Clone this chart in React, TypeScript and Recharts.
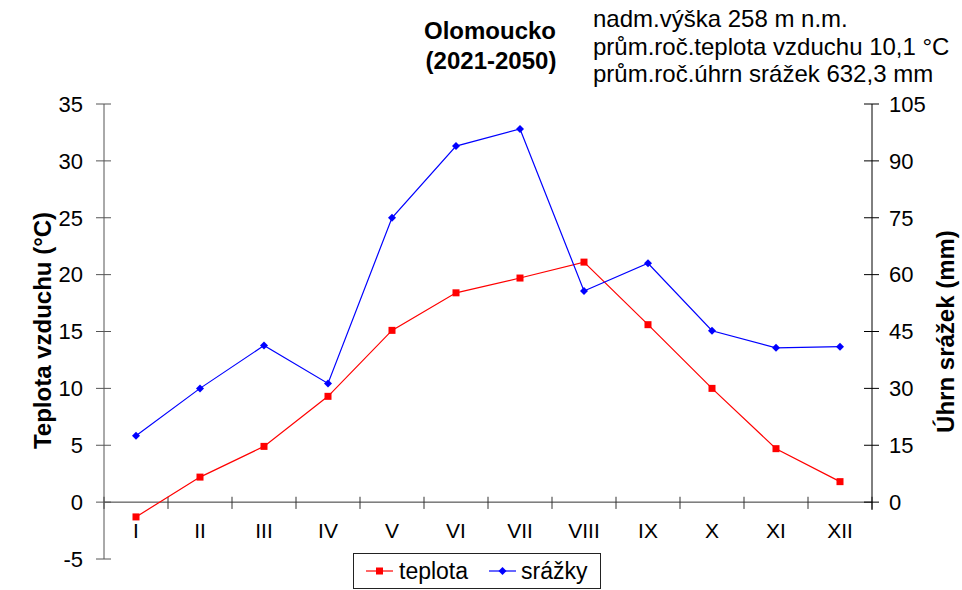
import React from 'react';
import { LineChart, Line, XAxis, YAxis, ReferenceLine, Legend } from 'recharts';

const months = ['I', 'II', 'III', 'IV', 'V', 'VI', 'VII', 'VIII', 'IX', 'X', 'XI', 'XII'];
const teplota = [-1.3, 2.2, 4.9, 9.3, 15.1, 18.4, 19.7, 21.1, 15.6, 10.0, 4.7, 1.8];
const srazky = [17.5, 30.0, 41.3, 31.3, 75.0, 93.9, 98.4, 55.7, 63.0, 45.2, 40.7, 41.0];
const tempTicks = [-5, 0, 5, 10, 15, 20, 25, 30, 35];
const precTicks = [0, 15, 30, 45, 60, 75, 90, 105];
const titleLines = ['Olomoucko', '(2021-2050)'];
const infoLines = ['nadm.výška 258 m n.m.', 'prům.roč.teplota vzduchu 10,1 °C', 'prům.roč.úhrn srážek 632,3 mm'];
const seriesOrder = ['teplota', 'srazky'];
const seriesNames = { teplota: 'teplota', srazky: 'srážky' };
const leftTitle = 'Teplota vzduchu (°C)';
const rightTitle = 'Úhrn srážek (mm)';

const data = months.map((m, i) => ({ month: m, idx: i + 1, teplota: teplota[i], srazky: srazky[i] }));
// category boundaries on a 1..12 index axis (for the small cross ticks on the zero line)
const boundaries = [0.5, ...months.map((_, i) => i + 1.5)];

const FONT = '"Liberation Sans", Arial, Helvetica, sans-serif';
const RED = '#FF0000';
const BLUE = '#0000FF';

const SquareDot = (props: any) => {
  const { cx, cy } = props;
  if (cx == null || cy == null) return null;
  return <rect x={cx - 3.5} y={cy - 3.5} width={7} height={7} fill={RED} stroke="none" />;
};

const DiamondDot = (props: any) => {
  const { cx, cy } = props;
  if (cx == null || cy == null) return null;
  const r = 4;
  return <polygon points={`${cx},${cy - r} ${cx + r},${cy} ${cx},${cy + r} ${cx - r},${cy}`} fill={BLUE} stroke="none" />;
};

const XTick = (props: any) => {
  const { x, y, payload } = props;
  return (
    <text x={x} y={y - 21} textAnchor="middle" fontSize={21} fontFamily={FONT} fill="#000">
      {payload.value}
    </text>
  );
};

const LeftTitle = (props: any) => {
  const vb = props.viewBox || {};
  const cy = (vb.y || 0) + (vb.height || 0) / 2 - 1;
  const bx = 51;
  return (
    <text x={bx} y={cy} transform={`rotate(-90 ${bx} ${cy})`} textAnchor="middle" fontSize={24} fontWeight="bold" fontFamily={FONT} fill="#000">
      {leftTitle}
    </text>
  );
};

const RightTitle = (props: any) => {
  const vb = props.viewBox || {};
  const cy = (vb.y || 0) + (vb.height || 0) / 2;
  const bx = 954;
  return (
    <text x={bx} y={cy} transform={`rotate(-90 ${bx} ${cy})`} textAnchor="middle" fontSize={24} fontWeight="bold" fontFamily={FONT} fill="#000">
      {rightTitle}
    </text>
  );
};

const LegendContent = (props: any) => {
  const payload = [...(props.payload || [])].sort(
    (a: any, b: any) => seriesOrder.indexOf(a.dataKey) - seriesOrder.indexOf(b.dataKey)
  );
  return (
    <div
      style={{
        boxSizing: 'border-box',
        width: 248,
        height: 36,
        border: '1px solid #222',
        background: '#fff',
        display: 'flex',
        alignItems: 'center',
        fontFamily: FONT,
        fontSize: 23,
        color: '#000',
        lineHeight: 1,
      }}
    >
      {payload.map((p: any, i: number) => (
        <React.Fragment key={i}>
          <svg width={27} height={10} style={{ marginLeft: i === 0 ? 12 : 21, display: 'block' }}>
            <line x1={0} y1={5} x2={27} y2={5} stroke={p.color} strokeWidth={1.2} />
            {p.dataKey === 'teplota' ? (
              <rect x={10} y={1.5} width={7} height={7} fill={p.color} />
            ) : (
              <polygon points="13.5,1 17.5,5 13.5,9 9.5,5" fill={p.color} />
            )}
          </svg>
          <span style={{ marginLeft: i === 0 ? 6 : 5 }}>{p.value}</span>
        </React.Fragment>
      ))}
    </div>
  );
};

export default function App() {
  return (
    <div style={{ position: 'absolute', left: 0, top: 0, width: 962, height: 590, background: '#fff' }}>
      <LineChart width={962} height={590} data={data} margin={{ top: 104, right: 10, bottom: 0, left: 20 }}>
        <XAxis
          dataKey="month"
          xAxisId="x"
          scale="band"
          axisLine={false}
          tickLine={false}
          tickSize={0}
          tickMargin={0}
          height={31}
          interval={0}
          tick={<XTick />}
        />
        <XAxis xAxisId="n" dataKey="idx" type="number" domain={[0.5, 12.5]} orientation="top" height={0} hide />
        <YAxis
          yAxisId="l"
          orientation="left"
          domain={[-5, 35]}
          ticks={tempTicks}
          interval={0}
          width={84}
          tickSize={15}
          tickMargin={6}
          axisLine={{ stroke: '#555', strokeWidth: 1 }}
          tickLine={{ stroke: '#555', strokeWidth: 1, transform: 'translate(7,0)' }}
          tick={{ fontSize: 22, fontFamily: FONT, fill: '#000' }}
          label={{ content: <LeftTitle /> }}
        />
        <YAxis
          yAxisId="r"
          orientation="right"
          domain={[-15, 105]}
          ticks={precTicks}
          interval={0}
          width={80}
          tickSize={15}
          tickMargin={2}
          axisLine={{ stroke: '#000', strokeWidth: 1, strokeDasharray: '406 1000' }}
          tickLine={{ stroke: '#000', strokeWidth: 1, transform: 'translate(-8,0)' }}
          tick={{ fontSize: 22, fontFamily: FONT, fill: '#000' }}
          label={{ content: <RightTitle /> }}
        />
        <ReferenceLine y={0} yAxisId="l" xAxisId="x" stroke="#333" strokeWidth={1} />
        {boundaries.map((b) => (
          <ReferenceLine
            key={b}
            xAxisId="n"
            yAxisId="l"
            segment={[{ x: b, y: 0.47 }, { x: b, y: -0.6 }]}
            stroke="#333"
            strokeWidth={1}
            ifOverflow="visible"
          />
        ))}
        <Line
          xAxisId="x"
          yAxisId="l"
          dataKey="teplota"
          name={seriesNames.teplota}
          stroke={RED}
          strokeWidth={1.2}
          dot={<SquareDot />}
          activeDot={false}
          isAnimationActive={false}
        />
        <Line
          xAxisId="x"
          yAxisId="r"
          dataKey="srazky"
          name={seriesNames.srazky}
          stroke={BLUE}
          strokeWidth={1.2}
          dot={<DiamondDot />}
          activeDot={false}
          isAnimationActive={false}
        />
        <Legend
          layout="horizontal"
          verticalAlign="middle"
          align="center"
          content={<LegendContent />}
          wrapperStyle={{ left: 353, top: 553, width: 248, height: 36, bottom: 'auto', right: 'auto' }}
        />
      </LineChart>
      <svg width={962} height={590} style={{ position: 'absolute', left: 0, top: 0, pointerEvents: 'none' }}>
        <text x={490} y={39} textAnchor="middle" fontSize={24} fontWeight="bold" fontFamily={FONT} fill="#000">
          {titleLines[0]}
        </text>
        <text x={491} y={69} textAnchor="middle" fontSize={24} fontWeight="bold" fontFamily={FONT} fill="#000">
          {titleLines[1]}
        </text>
        {infoLines.map((t, i) => (
          <text key={i} x={593} y={27 + i * 27.5} fontSize={24} fontFamily={FONT} fill="#000">
            {t}
          </text>
        ))}
      </svg>
    </div>
  );
}
